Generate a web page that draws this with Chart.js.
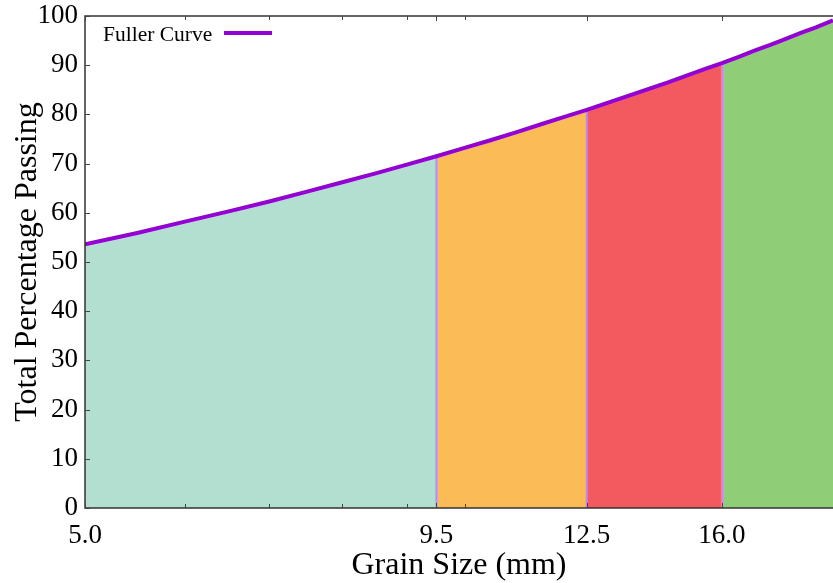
<!DOCTYPE html>
<html>
<head>
<meta charset="utf-8">
<script src="https://cdn.jsdelivr.net/npm/chart.js@4/dist/chart.umd.min.js"></script>
<style>
  html, body { margin: 0; padding: 0; background: #fff; overflow: hidden; }
  #wrap { width: 833px; height: 583px; }
</style>
</head>
<body>
<div id="wrap"><canvas id="myChart1"></canvas></div>
<script>
// grain sizes (mm) and passing (%)
let sizes = [5, 5.5, 6, 6.5, 7, 7.5, 8, 8.5, 9, 9.5, 10, 10.5, 11, 11.5, 12, 12.5, 13, 13.5, 14, 14.5, 15, 15.5, 16, 16.5, 17, 17.5, 18, 18.5, 19, 19.6];
let passing = [53.6, 55.9, 58.2, 60.3, 62.3, 64.3, 66.2, 68.0, 69.8, 71.5, 73.2, 74.8, 76.4, 78.0, 79.5, 80.9, 82.4, 83.8, 85.2, 86.5, 87.9, 89.2, 90.4, 91.7, 93.0, 94.2, 95.4, 96.6, 97.7, 99.1];
let xTicks = [5.0, 9.5, 12.5, 16.0];
let xMinorTicks = [6, 7, 8, 9, 10];
let yTicks = [0, 10, 20, 30, 40, 50, 60, 70, 80, 90, 100];
let bands = [5.0, 9.5, 12.5, 16.0, 19.6];
let bandColors = ['#b3dfd0', '#fbbb57', '#f35a5f', '#8fce76'];

let serif = 'Liberation Serif';

let pts = sizes.map((s, i) => ({ x: s, y: passing[i] }));

function segment(a, b) {
    return pts.filter(p => p.x >= a && p.x <= b);
}

let datasets = [{
    label: 'Fuller Curve',
    data: pts,
    borderColor: '#9400d3',
    borderWidth: 4,
    pointRadius: 0,
    fill: false,
    tension: 0
}];

// boundary lines between bands
for (let i = 1; i < bands.length - 1; i++) {
    let top = pts.find(p => p.x === bands[i]);
    datasets.push({
        label: 'edge' + i,
        data: [{ x: bands[i], y: 0 }, { x: bands[i], y: top.y }],
        borderColor: '#c387f5',
        borderWidth: 2,
        pointRadius: 0,
        fill: false
    });
}

for (let i = 0; i < bandColors.length; i++) {
    datasets.push({
        label: 'band' + i,
        data: segment(bands[i], bands[i + 1]),
        borderWidth: 0,
        borderColor: 'rgba(0,0,0,0)',
        backgroundColor: bandColors[i],
        pointRadius: 0,
        fill: 'origin',
        tension: 0
    });
}

const frame = {
    id: 'frame',
    afterDatasetsDraw(chart) {
        let c = chart.ctx, a = chart.chartArea;
        let xs = chart.scales.x, ys = chart.scales.y;
        c.save();
        c.strokeStyle = '#333';
        c.lineWidth = 1.5;
        c.beginPath();
        c.moveTo(a.right + 2, a.top);
        c.lineTo(a.left, a.top);
        c.lineTo(a.left, a.bottom);
        c.lineTo(a.right + 2, a.bottom);
        c.stroke();

        c.lineWidth = 1;
        c.strokeStyle = '#444';
        c.beginPath();
        yTicks.forEach(v => {
            let y = Math.round(ys.getPixelForValue(v)) + 0.5;
            c.moveTo(a.left, y);
            c.lineTo(a.left + 5, y);
        });
        xTicks.forEach(v => {
            let x = Math.round(xs.getPixelForValue(v)) + 0.5;
            c.moveTo(x, a.bottom);
            c.lineTo(x, a.bottom - 5);
            c.moveTo(x, a.top);
            c.lineTo(x, a.top + 5);
        });
        xMinorTicks.forEach(v => {
            let x = Math.round(xs.getPixelForValue(v)) + 0.5;
            c.moveTo(x, a.bottom);
            c.lineTo(x, a.bottom - 4);
            c.moveTo(x, a.top);
            c.lineTo(x, a.top + 4);
        });
        c.stroke();

        // legend
        c.font = '21.5px "' + serif + '"';
        c.fillStyle = '#000';
        c.textBaseline = 'alphabetic';
        c.fillText('Fuller Curve', 103, 41);
        c.strokeStyle = '#9400d3';
        c.lineWidth = 4;
        c.beginPath();
        c.moveTo(224, 33);
        c.lineTo(272, 33);
        c.stroke();
        c.restore();
    }
};

let ctx = document.getElementById('myChart1').getContext('2d');
let myChart1 = new Chart(ctx, {
    type: 'line',
    data: { datasets: datasets },
    options: {
        responsive: true,
        maintainAspectRatio: false,
        animation: false,
        layout: { padding: { top: 16, right: 0, left: 0, bottom: 0 } },
        plugins: {
            legend: { display: false },
            tooltip: { enabled: false }
        },
        scales: {
            x: {
                type: 'logarithmic',
                min: 5,
                max: 19.6,
                grid: { display: false, drawTicks: false },
                border: { display: false },
                afterBuildTicks: (scale) => {
                    scale.ticks = xTicks.map(v => ({ value: v }));
                },
                afterFit: (scale) => { scale.height = 75; },
                ticks: {
                    color: '#000',
                    font: { family: serif, size: 27 },
                    padding: 12,
                    maxRotation: 0,
                    autoSkip: false,
                    callback: (v) => Number(v).toFixed(1)
                },
                title: {
                    display: true,
                    text: 'Grain Size (mm)',
                    color: '#000',
                    font: { family: serif, size: 32 },
                    padding: { top: 0, bottom: -2 }
                }
            },
            y: {
                min: 0,
                max: 100,
                grid: { display: false, drawTicks: false },
                border: { display: false },
                afterBuildTicks: (scale) => {
                    scale.ticks = yTicks.map(v => ({ value: v }));
                },
                afterFit: (scale) => { scale.width = 85; },
                ticks: {
                    color: '#000',
                    font: { family: serif, size: 27, lineHeight: 0.6 },
                    padding: 7
                },
                title: {
                    display: true,
                    text: 'Total Percentage Passing',
                    color: '#000',
                    font: { family: serif, size: 32 },
                    padding: { top: 8, bottom: 0 }
                }
            }
        }
    },
    plugins: [frame]
});
</script>
</body>
</html>
